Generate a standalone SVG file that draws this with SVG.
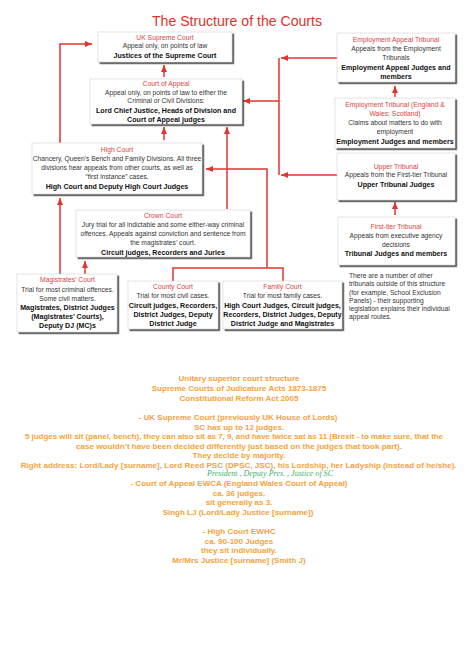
<svg xmlns="http://www.w3.org/2000/svg" width="474" height="670" viewBox="0 0 474 670">
<style>
.box{fill:#fff;stroke:#c8c8c8;stroke-width:0.5;filter:url(#sh)}
.h{font-family:"Liberation Sans",Arial,sans-serif;font-size:6.8px;fill:#d9443f;text-anchor:middle}
.t{font-family:"Liberation Sans",Arial,sans-serif;font-size:6.7px;fill:#333;text-anchor:middle}
.b{font-family:"Liberation Sans",Arial,sans-serif;font-size:7.1px;font-weight:bold;fill:#111;text-anchor:middle}
.n{font-family:"Liberation Sans",Arial,sans-serif;font-size:6.7px;fill:#333}
.o{font-family:"Liberation Sans",Arial,sans-serif;font-size:8px;font-weight:bold;fill:#f5a23a;text-anchor:middle}
.c{fill:none;stroke:#e2332f;stroke-width:1.5}
</style>
<defs>
<filter id="sh" x="-10%" y="-10%" width="125%" height="130%">
<feDropShadow dx="1.8" dy="1.8" stdDeviation="0.7" flood-color="#333" flood-opacity="0.85"/>
</filter>
<marker id="ar" markerUnits="userSpaceOnUse" viewBox="0 0 7 6" refX="7" refY="3" markerWidth="7" markerHeight="6" orient="auto">
<path d="M0,0 L7,3 L0,6 z" fill="#e2332f"/>
</marker>
</defs>
<rect width="474" height="670" fill="#fff"/>
<text x="237" y="26" font-family="'Liberation Sans',Arial,sans-serif" font-size="14.5" fill="#e0312f" text-anchor="middle" textLength="170" lengthAdjust="spacingAndGlyphs">The Structure of the Courts</text>

<g id="connectors">
<path class="c" d="M60,143 V44 H92" marker-end="url(#ar)"/>
<path class="c" d="M164,77 V65" marker-end="url(#ar)"/>
<path class="c" d="M164,140 V127" marker-end="url(#ar)"/>
<path class="c" d="M227,209 V127" marker-end="url(#ar)"/>
<path class="c" d="M60,274 V198" marker-end="url(#ar)"/>
<path class="c" d="M85,274 V261" marker-end="url(#ar)"/>
<path class="c" d="M173,281 V268 H283 V281"/>
<path class="c" d="M267,268 V169 H206" marker-end="url(#ar)"/>
<path class="c" d="M337,58 H281" marker-end="url(#ar)"/>
<path class="c" d="M279,58 V175"/>
<path class="c" d="M279,101 H243" marker-end="url(#ar)"/>
<path class="c" d="M337,175 H281" marker-end="url(#ar)"/>
<path class="c" d="M395,97 V86" marker-end="url(#ar)"/>
<path class="c" d="M395,215 V202" marker-end="url(#ar)"/>
</g>

<g id="uksc">
<rect class="box" x="98" y="32" width="134" height="30"/>
<text class="h" x="165" y="39.6">UK Supreme Court</text>
<text class="t" x="165" y="48.4">Appeal only, on points of law</text>
<text class="b" x="165" y="57.5">Justices of the Supreme Court</text>
</g>

<g id="coa">
<rect class="box" x="90" y="79" width="152" height="45"/>
<text class="h" x="166" y="85.6">Court of Appeal</text>
<text class="t" x="166" y="94.8">Appeal only, on points of law to either the</text>
<text class="t" x="166" y="103.4">Criminal or Civil Divisions:</text>
<text class="b" x="166" y="112.5">Lord Chief Justice, Heads of Division and</text>
<text class="b" x="166" y="121.5">Court of Appeal judges</text>
</g>

<g id="highcourt">
<rect class="box" x="32" y="143" width="170" height="51"/>
<text class="h" x="117" y="152.3">High Court</text>
<text class="t" x="117" y="161.3">Chancery, Queen’s Bench and Family Divisions. All three</text>
<text class="t" x="117" y="170.3">divisions hear appeals from other courts, as well as</text>
<text class="t" x="117" y="179.3">“first instance” cases.</text>
<text class="b" x="117" y="188.6">High Court and Deputy High Court Judges</text>
</g>

<g id="crown">
<rect class="box" x="76" y="210" width="174" height="47"/>
<text class="h" x="163" y="218.3">Crown Court</text>
<text class="t" x="163" y="227.3">Jury trial for all indictable and some either-way criminal</text>
<text class="t" x="163" y="236.3">offences. Appeals against conviction and sentence from</text>
<text class="t" x="163" y="245.3">the magistrates’ court.</text>
<text class="b" x="163" y="254.6">Circuit judges, Recorders and Juries</text>
</g>

<g id="magistrates">
<rect class="box" x="17" y="274" width="100" height="58"/>
<text class="h" x="67.5" y="282.3">Magistrates’ Court</text>
<text class="t" x="67.5" y="291.5">Trial for most criminal offences.</text>
<text class="t" x="67.5" y="300.9">Some civil matters.</text>
<text class="b" x="67.5" y="309.6">Magistrates, District Judges</text>
<text class="b" x="67.5" y="319">(Magistrates’ Courts),</text>
<text class="b" x="67.5" y="328">Deputy DJ (MC)s</text>
</g>

<g id="county">
<rect class="box" x="128" y="281" width="90" height="48"/>
<text class="h" x="173" y="289.3">County Court</text>
<text class="t" x="173" y="298.3">Trial for most civil cases.</text>
<text class="b" x="173" y="307.5">Circuit judges, Recorders,</text>
<text class="b" x="173" y="316.5">District Judges, Deputy</text>
<text class="b" x="173" y="325.5">District Judge</text>
</g>

<g id="family">
<rect class="box" x="223" y="281" width="119" height="48"/>
<text class="h" x="282.5" y="289.3">Family Court</text>
<text class="t" x="282.5" y="298.3">Trial for most family cases.</text>
<text class="b" x="282.5" y="307.5">High Court Judges, Circuit judges,</text>
<text class="b" x="282.5" y="316.5">Recorders, District Judges, Deputy</text>
<text class="b" x="282.5" y="325.5">District Judge and Magistrates</text>
</g>

<g id="eat">
<rect class="box" x="337" y="33" width="118" height="49"/>
<text class="h" x="396" y="42.3">Employment Appeal Tribunal</text>
<text class="t" x="396" y="51.3">Appeals from the Employment</text>
<text class="t" x="396" y="60.3">Tribunals</text>
<text class="b" x="396" y="69.5">Employment Appeal Judges and</text>
<text class="b" x="396" y="78.5">members</text>
</g>

<g id="et">
<rect class="box" x="335" y="98" width="120" height="50"/>
<text class="h" x="395" y="107.3">Employment Tribunal (England &amp;</text>
<text class="h" x="395" y="116.3">Wales; Scotland)</text>
<text class="t" x="395" y="125.3">Claims about matters to do with</text>
<text class="t" x="395" y="134.3">employment</text>
<text class="b" x="395" y="143.5">Employment Judges and members</text>
</g>

<g id="upper">
<rect class="box" x="337" y="153" width="118" height="47"/>
<text class="h" x="396" y="169">Upper Tribunal</text>
<text class="t" x="396" y="177.4">Appeals from the First-tier Tribunal</text>
<text class="b" x="396" y="187.2">Upper Tribunal Judges</text>
</g>

<g id="firsttier">
<rect class="box" x="338" y="217" width="117" height="48"/>
<text class="h" x="396" y="229">First-tier Tribunal</text>
<text class="t" x="396" y="238">Appeals from executive agency</text>
<text class="t" x="396" y="247">decisions</text>
<text class="b" x="396" y="256.2">Tribunal Judges and members</text>
</g>

<g id="note">
<text class="n" x="349" y="278.3">There are a number of other</text>
<text class="n" x="349" y="286.3">tribunals outside of this structure</text>
<text class="n" x="349" y="294.5">(for example, School Exclusion</text>
<text class="n" x="349" y="302.5">Panels) - their supporting</text>
<text class="n" x="349" y="310.5">legislation explains their individual</text>
<text class="n" x="349" y="318.5">appeal routes.</text>
</g>

<g id="notes">
<text class="o" x="239" y="381">Unitary superior court structure</text>
<text class="o" x="239" y="391">Supreme Courts of Judicature Acts 1873-1875</text>
<text class="o" x="239" y="401">Constitutional Reform Act 2005</text>
<text class="o" x="238" y="420">- UK Supreme Court (previously UK House of Lords)</text>
<text class="o" x="239" y="429.5">SC has up to 12 judges.</text>
<text class="o" x="234" y="439" textLength="418" lengthAdjust="spacingAndGlyphs">5 judges will sit (panel, bench), they can also sit as 7, 9, and have twice sat as 11 (Brexit - to make sure, that the</text>
<text class="o" x="239" y="448.5" textLength="326" lengthAdjust="spacingAndGlyphs">case wouldn’t have been decided differently just based on the judges that took part).</text>
<text class="o" x="239" y="458">They decide by majority.</text>
<text class="o" x="238.7" y="468" textLength="436" lengthAdjust="spacingAndGlyphs">Right address: Lord/Lady [surname], Lord Reed PSC (DPSC, JSC), his Lordship, her Ladyship (instead of he/she).</text>
<text x="270" y="476" font-family="'Liberation Serif',serif" font-style="italic" font-size="7.5" fill="#3fae6a" text-anchor="middle" textLength="126" lengthAdjust="spacingAndGlyphs">President , Deputy Pres. , Justice of SC</text>
<text class="o" x="239" y="486">- Court of Appeal EWCA (England Wales Court of Appeal)</text>
<text class="o" x="239" y="495.5">ca. 36 judges.</text>
<text class="o" x="239" y="505">sit generally as 3.</text>
<text class="o" x="238" y="514.5">Singh LJ (Lord/Lady Justice [surname])</text>
<text class="o" x="239" y="534">- High Court EWHC</text>
<text class="o" x="239" y="543.5">ca. 90-100 Judges</text>
<text class="o" x="239" y="553">they sit individually.</text>
<text class="o" x="239" y="562.5">Mr/Mrs Justice [surname] (Smith J)</text>
</g>
</svg>
